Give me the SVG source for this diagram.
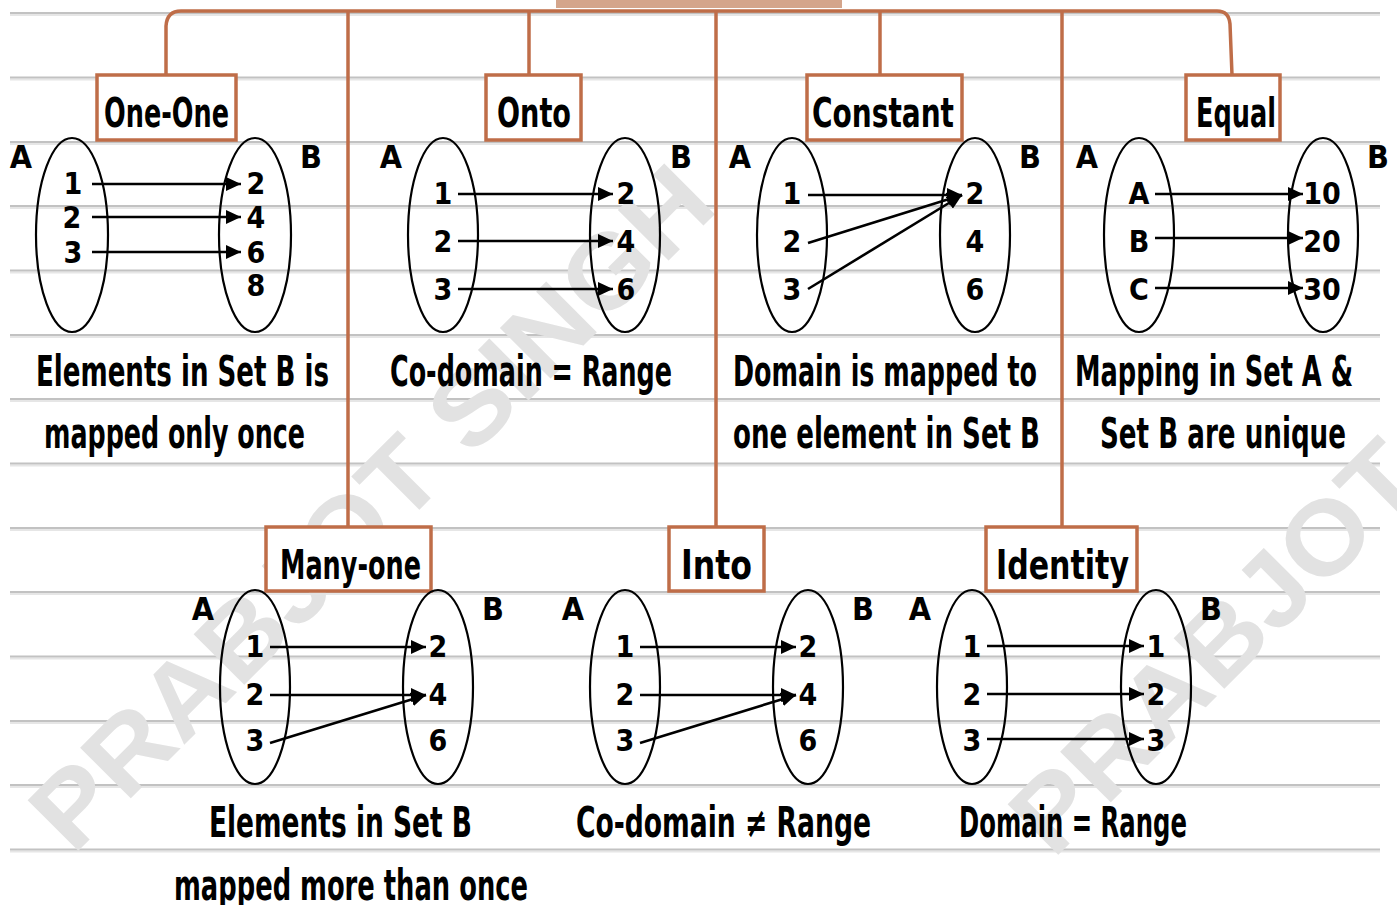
<svg xmlns="http://www.w3.org/2000/svg" width="1397" height="905" viewBox="0 0 1397 905">
  <defs>
    <marker id="arrow" markerUnits="userSpaceOnUse" markerWidth="16" markerHeight="14" refX="15" refY="7" orient="auto">
      <path d="M0,0 L15,7 L0,14 z" fill="#000"/>
    </marker>
    <style>
      .rule { stroke: #c2c2c2; stroke-width: 2.2; }
      .rule-shadow { stroke: #e6e6e6; stroke-width: 2; }
      .branch { fill: none; stroke: #bf6d48; stroke-width: 3.5; }
      .box { fill: #fff; stroke: #bf6d48; stroke-width: 3.5; }
      .set { fill: none; stroke: #000; stroke-width: 2.2; }
      .map { stroke: #000; stroke-width: 2.6; marker-end: url(#arrow); }
      .hand { font-family: "Liberation Sans Narrow", "DejaVu Sans Condensed", "Liberation Sans", sans-serif; font-weight: bold; fill: #000; }
      .title { font-size: 40px; text-anchor: middle; }
      .desc { font-size: 42px; text-anchor: middle; }
      .el { font-size: 30px; text-anchor: middle; }
      .setname { font-size: 32px; text-anchor: middle; }
      .mark { font-family: "Liberation Sans", "DejaVu Sans", sans-serif; font-weight: bold; font-size: 104px; fill: #e2e2e2; }
    </style>
  </defs>

  <rect width="1397" height="905" fill="#fff"/>

  <!-- notebook ruling -->
  <g id="ruling">
    <g class="rule-shadow">
      <line x1="10" y1="15" x2="1380" y2="15"/>
      <line x1="10" y1="79.5" x2="1380" y2="79.5"/>
      <line x1="10" y1="144" x2="1380" y2="144"/>
      <line x1="10" y1="208" x2="1380" y2="208"/>
      <line x1="10" y1="272.5" x2="1380" y2="272.5"/>
      <line x1="10" y1="337" x2="1380" y2="337"/>
      <line x1="10" y1="401" x2="1380" y2="401"/>
      <line x1="10" y1="465.5" x2="1380" y2="465.5"/>
      <line x1="10" y1="530" x2="1380" y2="530"/>
      <line x1="10" y1="594" x2="1380" y2="594"/>
      <line x1="10" y1="658.5" x2="1380" y2="658.5"/>
      <line x1="10" y1="723" x2="1380" y2="723"/>
      <line x1="10" y1="787" x2="1380" y2="787"/>
      <line x1="10" y1="851.5" x2="1380" y2="851.5"/>
    </g>
    <g class="rule">
      <line x1="10" y1="13" x2="1380" y2="13"/>
      <line x1="10" y1="77.5" x2="1380" y2="77.5"/>
      <line x1="10" y1="142" x2="1380" y2="142"/>
      <line x1="10" y1="206" x2="1380" y2="206"/>
      <line x1="10" y1="270.5" x2="1380" y2="270.5"/>
      <line x1="10" y1="335" x2="1380" y2="335"/>
      <line x1="10" y1="399" x2="1380" y2="399"/>
      <line x1="10" y1="463.5" x2="1380" y2="463.5"/>
      <line x1="10" y1="528" x2="1380" y2="528"/>
      <line x1="10" y1="592" x2="1380" y2="592"/>
      <line x1="10" y1="656.5" x2="1380" y2="656.5"/>
      <line x1="10" y1="721" x2="1380" y2="721"/>
      <line x1="10" y1="785" x2="1380" y2="785"/>
      <line x1="10" y1="849.5" x2="1380" y2="849.5"/>
    </g>
  </g>

  <!-- watermark -->
  <g id="watermark">
    <text class="mark" x="73" y="856" textLength="915" lengthAdjust="spacingAndGlyphs" transform="rotate(-45 73 856)">PRABJOT SINGH</text>
    <text class="mark" x="1053" y="860" textLength="915" lengthAdjust="spacingAndGlyphs" transform="rotate(-45 1053 860)">PRABJOT SINGH</text>
  </g>

  <!-- root header (mostly above the page edge) -->
  <g id="root">
    <rect x="556" y="-4" width="286" height="12" fill="#d4a58b"/>
  </g>

  <!-- tree connectors -->
  <g id="connectors">
    <path class="branch" d="M166,75 L166,26 Q167,11 181,11 L1217,11 Q1229,11 1230,24 L1232,75"/>
    <line class="branch" x1="348" y1="11" x2="348" y2="527"/>
    <line class="branch" x1="529" y1="11" x2="529" y2="75"/>
    <line class="branch" x1="716" y1="11" x2="716" y2="527"/>
    <line class="branch" x1="880" y1="11" x2="880" y2="75"/>
    <line class="branch" x1="1062" y1="11" x2="1062" y2="527"/>
  </g>

  <!-- One-One -->
  <g id="one-one">
    <rect class="box" x="97" y="75" width="139" height="65"/>
    <text class="hand title" x="166.5" y="127" textLength="125" lengthAdjust="spacingAndGlyphs">One-One</text>
    <text class="hand setname" x="21" y="168">A</text>
    <text class="hand setname" x="311" y="168">B</text>
    <ellipse class="set" cx="72" cy="235" rx="36" ry="97"/>
    <ellipse class="set" cx="255" cy="235" rx="36" ry="97"/>
    <text class="hand el" x="73" y="194">1</text>
    <text class="hand el" x="72" y="228">2</text>
    <text class="hand el" x="73" y="263">3</text>
    <text class="hand el" x="256" y="194">2</text>
    <text class="hand el" x="256" y="228">4</text>
    <text class="hand el" x="256" y="263">6</text>
    <text class="hand el" x="256" y="296">8</text>
    <line class="map" x1="92" y1="184" x2="241" y2="184"/>
    <line class="map" x1="92" y1="217" x2="241" y2="217"/>
    <line class="map" x1="92" y1="252" x2="241" y2="252"/>
    <text class="hand desc" x="182.5" y="386" textLength="293" lengthAdjust="spacingAndGlyphs">Elements in Set B is</text>
    <text class="hand desc" x="174.5" y="448" textLength="261" lengthAdjust="spacingAndGlyphs">mapped only once</text>
  </g>

  <!-- Onto -->
  <g id="onto">
    <rect class="box" x="486" y="75" width="95" height="65"/>
    <text class="hand title" x="534" y="127" textLength="74" lengthAdjust="spacingAndGlyphs">Onto</text>
    <text class="hand setname" x="391" y="168">A</text>
    <text class="hand setname" x="681" y="168">B</text>
    <ellipse class="set" cx="443" cy="235" rx="35" ry="97"/>
    <ellipse class="set" cx="625" cy="235" rx="35" ry="97"/>
    <text class="hand el" x="443" y="204">1</text>
    <text class="hand el" x="443" y="252">2</text>
    <text class="hand el" x="443" y="300">3</text>
    <text class="hand el" x="626" y="204">2</text>
    <text class="hand el" x="626" y="252">4</text>
    <text class="hand el" x="626" y="300">6</text>
    <line class="map" x1="458" y1="194" x2="613" y2="194"/>
    <line class="map" x1="458" y1="241" x2="613" y2="241"/>
    <line class="map" x1="458" y1="289" x2="613" y2="289"/>
    <text class="hand desc" x="531" y="386" textLength="282" lengthAdjust="spacingAndGlyphs">Co-domain = Range</text>
  </g>

  <!-- Constant -->
  <g id="constant">
    <rect class="box" x="807" y="75" width="155" height="65"/>
    <text class="hand title" x="883" y="127" textLength="142" lengthAdjust="spacingAndGlyphs">Constant</text>
    <text class="hand setname" x="740" y="168">A</text>
    <text class="hand setname" x="1030" y="168">B</text>
    <ellipse class="set" cx="792" cy="235" rx="35" ry="97"/>
    <ellipse class="set" cx="975" cy="235" rx="35" ry="97"/>
    <text class="hand el" x="792" y="204">1</text>
    <text class="hand el" x="792" y="252">2</text>
    <text class="hand el" x="792" y="300">3</text>
    <text class="hand el" x="975" y="204">2</text>
    <text class="hand el" x="975" y="252">4</text>
    <text class="hand el" x="975" y="300">6</text>
    <line class="map" x1="808" y1="195" x2="962" y2="195"/>
    <line class="map" x1="808" y1="243" x2="962" y2="195"/>
    <line class="map" x1="808" y1="289" x2="962" y2="195"/>
    <text class="hand desc" x="885" y="386" textLength="304" lengthAdjust="spacingAndGlyphs">Domain is mapped to</text>
    <text class="hand desc" x="886.5" y="448" textLength="307" lengthAdjust="spacingAndGlyphs">one element in Set B</text>
  </g>

  <!-- Equal -->
  <g id="equal">
    <rect class="box" x="1186" y="75" width="94" height="65"/>
    <text class="hand title" x="1236" y="127" textLength="80" lengthAdjust="spacingAndGlyphs">Equal</text>
    <text class="hand setname" x="1087" y="168">A</text>
    <text class="hand setname" x="1378" y="168">B</text>
    <ellipse class="set" cx="1139" cy="235" rx="35" ry="97"/>
    <ellipse class="set" cx="1323" cy="235" rx="35" ry="97"/>
    <text class="hand el" x="1139" y="204">A</text>
    <text class="hand el" x="1139" y="252">B</text>
    <text class="hand el" x="1139" y="300">C</text>
    <text class="hand el" x="1322" y="204">10</text>
    <text class="hand el" x="1322" y="252">20</text>
    <text class="hand el" x="1322" y="300">30</text>
    <line class="map" x1="1155" y1="194" x2="1303" y2="194"/>
    <line class="map" x1="1155" y1="238" x2="1303" y2="238"/>
    <line class="map" x1="1155" y1="288" x2="1303" y2="288"/>
    <text class="hand desc" x="1214" y="386" textLength="278" lengthAdjust="spacingAndGlyphs">Mapping in Set A &amp;</text>
    <text class="hand desc" x="1223" y="448" textLength="246" lengthAdjust="spacingAndGlyphs">Set B are unique</text>
  </g>

  <!-- Many-one -->
  <g id="many-one">
    <rect class="box" x="266" y="527" width="165" height="64"/>
    <text class="hand title" x="350.5" y="579" textLength="141" lengthAdjust="spacingAndGlyphs">Many-one</text>
    <text class="hand setname" x="203" y="620">A</text>
    <text class="hand setname" x="493" y="620">B</text>
    <ellipse class="set" cx="255" cy="687" rx="35" ry="97"/>
    <ellipse class="set" cx="438" cy="687" rx="35" ry="97"/>
    <text class="hand el" x="255" y="657">1</text>
    <text class="hand el" x="255" y="705">2</text>
    <text class="hand el" x="255" y="751">3</text>
    <text class="hand el" x="438" y="657">2</text>
    <text class="hand el" x="438" y="705">4</text>
    <text class="hand el" x="438" y="751">6</text>
    <line class="map" x1="270" y1="647" x2="426" y2="647"/>
    <line class="map" x1="270" y1="695" x2="426" y2="695"/>
    <line class="map" x1="270" y1="743" x2="426" y2="695"/>
    <text class="hand desc" x="340.5" y="837" textLength="263" lengthAdjust="spacingAndGlyphs">Elements in Set B</text>
    <text class="hand desc" x="351" y="900" textLength="354" lengthAdjust="spacingAndGlyphs">mapped more than once</text>
  </g>

  <!-- Into -->
  <g id="into">
    <rect class="box" x="669" y="527" width="95" height="64"/>
    <text class="hand title" x="716.5" y="579" textLength="71" lengthAdjust="spacingAndGlyphs">Into</text>
    <text class="hand setname" x="573" y="620">A</text>
    <text class="hand setname" x="863" y="620">B</text>
    <ellipse class="set" cx="625" cy="687" rx="35" ry="97"/>
    <ellipse class="set" cx="808" cy="687" rx="35" ry="97"/>
    <text class="hand el" x="625" y="657">1</text>
    <text class="hand el" x="625" y="705">2</text>
    <text class="hand el" x="625" y="751">3</text>
    <text class="hand el" x="808" y="657">2</text>
    <text class="hand el" x="808" y="705">4</text>
    <text class="hand el" x="808" y="751">6</text>
    <line class="map" x1="640" y1="647" x2="796" y2="647"/>
    <line class="map" x1="640" y1="695" x2="796" y2="695"/>
    <line class="map" x1="640" y1="743" x2="796" y2="695"/>
    <text class="hand desc" x="723.5" y="837" textLength="295" lengthAdjust="spacingAndGlyphs">Co-domain ≠ Range</text>
  </g>

  <!-- Identity -->
  <g id="identity">
    <rect class="box" x="986" y="527" width="151" height="64"/>
    <text class="hand title" x="1062.5" y="579" textLength="133" lengthAdjust="spacingAndGlyphs">Identity</text>
    <text class="hand setname" x="920" y="620">A</text>
    <text class="hand setname" x="1211" y="620">B</text>
    <ellipse class="set" cx="972" cy="687" rx="35" ry="97"/>
    <ellipse class="set" cx="1156" cy="687" rx="35" ry="97"/>
    <text class="hand el" x="972" y="657">1</text>
    <text class="hand el" x="972" y="705">2</text>
    <text class="hand el" x="972" y="751">3</text>
    <text class="hand el" x="1156" y="657">1</text>
    <text class="hand el" x="1156" y="705">2</text>
    <text class="hand el" x="1156" y="751">3</text>
    <line class="map" x1="987" y1="646" x2="1144" y2="646"/>
    <line class="map" x1="987" y1="694" x2="1144" y2="694"/>
    <line class="map" x1="987" y1="739" x2="1144" y2="739"/>
    <text class="hand desc" x="1073" y="837" textLength="228" lengthAdjust="spacingAndGlyphs">Domain = Range</text>
  </g>
</svg>
